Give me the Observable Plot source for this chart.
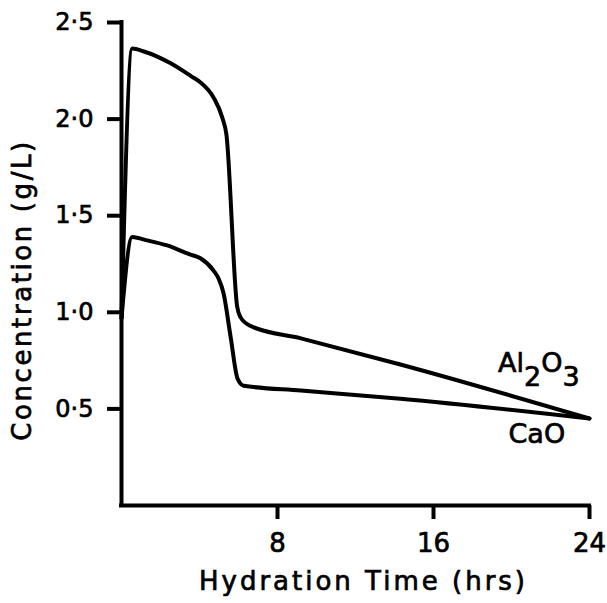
<!DOCTYPE html>
<html>
<head>
<meta charset="utf-8">
<script src="https://cdn.jsdelivr.net/npm/d3@7"></script>
<script src="https://cdn.jsdelivr.net/npm/@observablehq/plot@0.6"></script>
<style>
  html, body { margin: 0; padding: 0; background: white; }
  svg { display: block; }
  svg text { stroke: black; stroke-width: 0.7px; }
</style>
</head>
<body>
<div id="chart"></div>
<script>
// Hydration time (hrs) and concentration (g/L)
const alTime = [0, 0.55, 1.15, 2.5, 3.6, 4.05, 4.73, 5.16, 5.38, 5.93, 6.1, 6.6, 9.2, 14.3, 24];
const alConc = [0.97, 2.365, 2.35, 2.29, 2.22, 2.19, 2.11, 2.01, 1.92, 1.03, 0.975, 0.93, 0.865, 0.73, 0.45];
const caTime = [0, 0.55, 1.2, 2.34, 3.5, 4.05, 4.72, 5.0, 5.23, 5.6, 5.95, 6.26, 9.2, 14.3, 24];
const caConc = [0.97, 1.39, 1.375, 1.346, 1.30, 1.28, 1.216, 1.17, 1.10, 0.87, 0.657, 0.62, 0.595, 0.553, 0.45];

const xTicks = [8, 16, 24];
const yTicks = [0.5, 1.0, 1.5, 2.0, 2.5];

const seriesLabels = ["Al2O3", "CaO"];
const labelTime = [21.4, 21.3];
const labelConc = [0.735, 0.37];

const al = alTime.map((t, i) => ({t, c: alConc[i]}));
const ca = caTime.map((t, i) => ({t, c: caConc[i]}));
const labels = seriesLabels.map((s, i) => ({s, t: labelTime[i], c: labelConc[i]}));

const font = "DejaVu Sans";

const chart = Plot.plot({
  width: 607,
  height: 603,
  marginLeft: 121,
  marginRight: 18,
  marginTop: 22,
  marginBottom: 98,
  style: {fontFamily: font, color: "black", background: "white"},
  x: {domain: [0, 24]},
  y: {domain: [0, 2.5]},
  marks: [
    Plot.axisX({
      ticks: xTicks, tickSize: 14, strokeWidth: 4, tickPadding: 14,
      fontSize: 26, tickFormat: d => String(d),
      label: "Hydration Time (hrs)", labelAnchor: "center", labelArrow: "none", labelOffset: 84
    }),
    Plot.axisY({
      ticks: yTicks, tickSize: 14, strokeWidth: 4, tickPadding: 14,
      fontSize: 24, tickFormat: d => d.toFixed(1).replace(".", "·"),
      label: "Concentration (g/L)", labelAnchor: "center", labelArrow: "none", labelOffset: 112
    }),
    Plot.ruleX([0], {strokeWidth: 4, strokeLinecap: "square"}),
    Plot.ruleY([0], {strokeWidth: 4, strokeLinecap: "square"}),
    Plot.line(al, {x: "t", y: "c", stroke: "black", strokeWidth: 4, curve: "monotone-x"}),
    Plot.line(ca, {x: "t", y: "c", stroke: "black", strokeWidth: 4, curve: "monotone-x"}),
    Plot.text(labels, {x: "t", y: "c", text: "s", fontSize: 27, fill: "black", textAnchor: "middle"})
  ]
});

// Subscripts for Al2O3
d3.select(chart).selectAll("text").each(function() {
  if (this.textContent === "Al2O3") {
    const el = d3.select(this);
    el.text(null);
    el.append("tspan").text("Al");
    el.append("tspan").attr("dy", "0.5em").text("2");
    el.append("tspan").attr("dy", "-0.5em").text("O");
    el.append("tspan").attr("dy", "0.5em").text("3");
  }
});
// axis label styling
const xl = d3.select(chart).select("[aria-label='x-axis label'] text");
xl.style("font-size", "26px").style("letter-spacing", "3px");
xl.attr("transform", (xl.attr("transform") || "") + " translate(8,0)");
const yl = d3.select(chart).select("[aria-label='y-axis label'] text");
yl.style("font-size", "26px").style("letter-spacing", "2.6px");
yl.attr("transform", (yl.attr("transform") || "") + " translate(-26,3)");

document.getElementById("chart").appendChild(chart);
</script>
</body>
</html>
